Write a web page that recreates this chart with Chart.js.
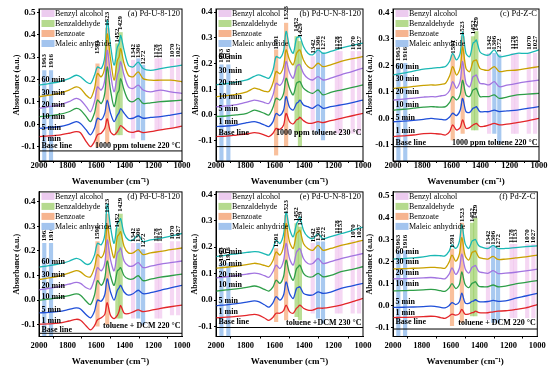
<!DOCTYPE html>
<html>
<head>
<meta charset="utf-8">
<script src="https://cdn.jsdelivr.net/npm/chart.js@4.4.0/dist/chart.umd.min.js"></script>
<style>
  html, body { margin: 0; padding: 0; background: #fff; }
  body { width: 549px; height: 371px; position: relative; overflow: hidden; }
  canvas { position: absolute; left: 0; }
</style>
</head>
<body>
<script>
// ===== Data =====
const wavenumbers = [2000, 1930, 1860, 1790, 1740, 1710, 1670, 1640, 1612, 1591, 1565, 1540, 1523, 1500, 1475, 1452, 1440, 1429, 1405, 1375, 1342, 1306, 1272, 1220, 1150, 1080, 1000];
const seriesNames = ["1 min", "5 min", "10 min", "20 min", "30 min", "60 min"];
const xTicks = [2000, 1800, 1600, 1400, 1200, 1000];

// (a) Pd-U-8-120, 1000 ppm toluene 220 °C
const a1  = [-0.055, -0.052, -0.048, -0.040, -0.033, -0.038, -0.077, -0.100, -0.077, -0.047, -0.040, -0.018, 0.024, -0.033, -0.047, -0.033, -0.018, -0.006, -0.018, -0.033, -0.036, -0.030, -0.037, -0.033, -0.025, -0.018, -0.008];
const a5  = [-0.018, -0.015, -0.011, 0.000, 0.012, 0.004, -0.025, -0.047, -0.018, 0.027, 0.020, 0.050, 0.108, 0.050, 0.012, 0.040, 0.052, 0.070, 0.050, 0.027, 0.027, 0.037, 0.027, 0.031, 0.034, 0.041, 0.050];
const a10 = [0.034, 0.038, 0.044, 0.056, 0.071, 0.064, 0.034, 0.012, 0.050, 0.108, 0.093, 0.138, 0.256, 0.153, 0.079, 0.138, 0.153, 0.204, 0.153, 0.108, 0.101, 0.116, 0.093, 0.096, 0.101, 0.104, 0.108];
const a20 = [0.071, 0.079, 0.086, 0.101, 0.116, 0.108, 0.079, 0.056, 0.101, 0.167, 0.153, 0.197, 0.330, 0.227, 0.145, 0.219, 0.242, 0.279, 0.219, 0.167, 0.160, 0.175, 0.153, 0.145, 0.153, 0.145, 0.138];
const a30 = [0.123, 0.130, 0.138, 0.153, 0.167, 0.160, 0.130, 0.116, 0.160, 0.227, 0.212, 0.256, 0.404, 0.293, 0.197, 0.286, 0.301, 0.338, 0.271, 0.219, 0.212, 0.234, 0.204, 0.197, 0.197, 0.197, 0.190];
const a60 = [0.175, 0.182, 0.190, 0.204, 0.219, 0.212, 0.190, 0.182, 0.219, 0.256, 0.249, 0.301, 0.464, 0.353, 0.264, 0.345, 0.360, 0.397, 0.330, 0.264, 0.256, 0.278, 0.249, 0.241, 0.249, 0.256, 0.264];

// (b) Pd-U-N-8-120, 1000 ppm toluene 230 °C
const b1  = [-0.084, -0.082, -0.078, -0.074, -0.069, -0.071, -0.078, -0.084, -0.071, -0.052, -0.056, -0.039, 0.006, -0.026, -0.035, -0.019, -0.016, -0.009, -0.022, -0.032, -0.032, -0.026, -0.030, -0.022, -0.013, -0.004, 0.006];
const b5  = [-0.045, -0.043, -0.039, -0.030, -0.026, -0.030, -0.039, -0.045, -0.026, 0.006, -0.002, 0.019, 0.071, 0.030, 0.019, 0.045, 0.050, 0.058, 0.039, 0.032, 0.026, 0.039, 0.026, 0.032, 0.039, 0.047, 0.058];
const b10 = [-0.006, -0.004, 0.000, 0.006, 0.019, 0.015, 0.006, 0.000, 0.030, 0.065, 0.058, 0.084, 0.143, 0.104, 0.078, 0.123, 0.128, 0.130, 0.104, 0.091, 0.084, 0.097, 0.078, 0.088, 0.097, 0.106, 0.117];
const b20 = [0.032, 0.035, 0.040, 0.050, 0.058, 0.055, 0.048, 0.045, 0.078, 0.123, 0.115, 0.140, 0.208, 0.165, 0.143, 0.188, 0.195, 0.195, 0.162, 0.143, 0.136, 0.149, 0.136, 0.143, 0.156, 0.168, 0.182];
const b30 = [0.071, 0.075, 0.080, 0.090, 0.104, 0.100, 0.092, 0.091, 0.125, 0.169, 0.160, 0.190, 0.253, 0.215, 0.195, 0.240, 0.250, 0.253, 0.214, 0.188, 0.182, 0.201, 0.188, 0.195, 0.208, 0.218, 0.227];
const b60 = [0.117, 0.122, 0.128, 0.136, 0.150, 0.156, 0.148, 0.143, 0.175, 0.227, 0.221, 0.250, 0.325, 0.266, 0.240, 0.299, 0.303, 0.305, 0.266, 0.240, 0.234, 0.253, 0.240, 0.247, 0.260, 0.270, 0.279];

// (c) Pd-Z-C, 1000 ppm toluene 220 °C
const c1  = [-0.069, -0.066, -0.063, -0.058, -0.057, -0.058, -0.060, -0.063, -0.050, -0.025, -0.044, -0.035, -0.006, -0.038, -0.035, -0.025, -0.022, -0.019, -0.031, -0.030, -0.025, -0.019, -0.025, -0.022, -0.016, -0.010, 0.000];
const c5  = [-0.013, -0.011, -0.008, -0.004, 0.000, -0.002, -0.004, -0.006, 0.005, 0.019, 0.010, 0.030, 0.075, 0.025, 0.022, 0.038, 0.040, 0.044, 0.025, 0.025, 0.025, 0.031, 0.025, 0.028, 0.031, 0.037, 0.044];
const c10 = [0.031, 0.034, 0.038, 0.042, 0.044, 0.043, 0.042, 0.044, 0.060, 0.082, 0.069, 0.090, 0.144, 0.088, 0.082, 0.107, 0.110, 0.113, 0.082, 0.082, 0.082, 0.088, 0.075, 0.080, 0.088, 0.091, 0.094];
const c20 = [0.069, 0.072, 0.076, 0.080, 0.082, 0.081, 0.085, 0.088, 0.105, 0.138, 0.113, 0.140, 0.214, 0.132, 0.119, 0.157, 0.160, 0.163, 0.132, 0.130, 0.126, 0.138, 0.119, 0.125, 0.132, 0.138, 0.144];
const c30 = [0.113, 0.116, 0.120, 0.124, 0.126, 0.125, 0.128, 0.132, 0.160, 0.195, 0.163, 0.190, 0.270, 0.188, 0.176, 0.214, 0.218, 0.220, 0.188, 0.182, 0.182, 0.195, 0.176, 0.180, 0.182, 0.188, 0.195];
const c60 = [0.163, 0.170, 0.178, 0.185, 0.188, 0.190, 0.192, 0.195, 0.215, 0.245, 0.220, 0.245, 0.327, 0.245, 0.232, 0.283, 0.288, 0.295, 0.251, 0.240, 0.239, 0.258, 0.232, 0.236, 0.245, 0.245, 0.258];

// (d) Pd-U-8-120, toluene + DCM 220 °C
const d1  = [-0.098, -0.097, -0.094, -0.085, -0.078, -0.082, -0.105, -0.121, -0.104, -0.080, -0.072, -0.058, -0.010, -0.062, -0.075, -0.062, -0.045, -0.022, -0.053, -0.055, -0.048, -0.040, -0.047, -0.042, -0.034, -0.027, -0.020];
const d5  = [-0.052, -0.050, -0.046, -0.038, -0.032, -0.036, -0.060, -0.072, -0.045, 0.000, -0.005, 0.022, 0.086, 0.033, 0.000, 0.040, 0.050, 0.060, 0.033, 0.020, 0.026, 0.040, 0.026, 0.030, 0.040, 0.050, 0.060];
const d10 = [0.000, 0.004, 0.010, 0.018, 0.025, 0.020, -0.005, -0.018, 0.020, 0.079, 0.060, 0.090, 0.159, 0.099, 0.060, 0.119, 0.125, 0.132, 0.099, 0.086, 0.086, 0.099, 0.079, 0.085, 0.093, 0.099, 0.106];
const d20 = [0.042, 0.048, 0.055, 0.065, 0.072, 0.068, 0.050, 0.045, 0.085, 0.132, 0.119, 0.150, 0.245, 0.165, 0.119, 0.192, 0.200, 0.212, 0.159, 0.139, 0.139, 0.152, 0.132, 0.138, 0.146, 0.152, 0.159];
const d30 = [0.083, 0.090, 0.098, 0.110, 0.120, 0.115, 0.097, 0.095, 0.132, 0.185, 0.172, 0.205, 0.304, 0.225, 0.172, 0.258, 0.268, 0.278, 0.218, 0.192, 0.192, 0.205, 0.185, 0.192, 0.198, 0.205, 0.212];
const d60 = [0.134, 0.140, 0.147, 0.158, 0.170, 0.164, 0.146, 0.150, 0.183, 0.231, 0.225, 0.265, 0.390, 0.298, 0.231, 0.311, 0.320, 0.331, 0.271, 0.245, 0.245, 0.265, 0.238, 0.245, 0.251, 0.260, 0.271];

// (e) Pd-U-N-8-120, toluene + DCM 230 °C
const e1  = [-0.067, -0.065, -0.062, -0.058, -0.054, -0.057, -0.068, -0.077, -0.065, -0.050, -0.050, -0.040, -0.019, -0.044, -0.050, -0.031, -0.025, -0.019, -0.031, -0.038, -0.038, -0.031, -0.031, -0.027, -0.019, -0.008, 0.006];
const e5  = [-0.021, -0.018, -0.014, -0.008, -0.003, -0.006, -0.018, -0.027, -0.010, 0.013, 0.000, 0.020, 0.069, 0.025, 0.006, 0.044, 0.048, 0.050, 0.025, 0.019, 0.019, 0.031, 0.025, 0.030, 0.044, 0.053, 0.063];
const e10 = [0.034, 0.038, 0.042, 0.048, 0.053, 0.050, 0.040, 0.034, 0.050, 0.075, 0.063, 0.090, 0.151, 0.101, 0.075, 0.119, 0.126, 0.132, 0.101, 0.088, 0.088, 0.101, 0.088, 0.093, 0.107, 0.115, 0.126];
const e20 = [0.084, 0.088, 0.092, 0.098, 0.102, 0.100, 0.092, 0.086, 0.108, 0.132, 0.119, 0.150, 0.214, 0.157, 0.132, 0.182, 0.190, 0.195, 0.157, 0.138, 0.138, 0.157, 0.138, 0.145, 0.157, 0.166, 0.176];
const e30 = [0.121, 0.124, 0.128, 0.134, 0.139, 0.137, 0.131, 0.127, 0.150, 0.182, 0.170, 0.205, 0.289, 0.220, 0.195, 0.251, 0.258, 0.264, 0.214, 0.195, 0.188, 0.207, 0.188, 0.195, 0.207, 0.215, 0.226];
const e60 = [0.164, 0.170, 0.175, 0.180, 0.183, 0.182, 0.175, 0.170, 0.195, 0.226, 0.214, 0.250, 0.333, 0.270, 0.239, 0.289, 0.300, 0.314, 0.264, 0.239, 0.232, 0.251, 0.232, 0.240, 0.251, 0.262, 0.276];

// (f) Pd-Z-C, toluene + DCM 220 °C
const f1  = [-0.056, -0.055, -0.054, -0.052, -0.050, -0.051, -0.056, -0.060, -0.050, -0.040, -0.045, -0.038, -0.019, -0.041, -0.040, -0.034, -0.032, -0.027, -0.033, -0.035, -0.034, -0.030, -0.027, -0.025, -0.019, -0.012, 0.003];
const f5  = [-0.010, -0.009, -0.008, -0.006, -0.004, -0.005, -0.010, -0.012, -0.002, 0.012, 0.003, 0.016, 0.055, 0.011, 0.008, 0.018, 0.020, 0.025, 0.016, 0.015, 0.017, 0.022, 0.018, 0.020, 0.032, 0.042, 0.054];
const f10 = [0.065, 0.066, 0.068, 0.070, 0.072, 0.071, 0.066, 0.063, 0.078, 0.098, 0.076, 0.094, 0.151, 0.094, 0.080, 0.100, 0.103, 0.107, 0.086, 0.084, 0.084, 0.092, 0.084, 0.087, 0.097, 0.104, 0.112];
const f20 = [0.120, 0.121, 0.122, 0.124, 0.126, 0.125, 0.122, 0.120, 0.140, 0.170, 0.140, 0.168, 0.233, 0.166, 0.146, 0.173, 0.177, 0.181, 0.153, 0.148, 0.145, 0.157, 0.144, 0.146, 0.150, 0.156, 0.164];
const f30 = [0.165, 0.166, 0.168, 0.170, 0.172, 0.172, 0.170, 0.168, 0.195, 0.228, 0.200, 0.232, 0.307, 0.225, 0.205, 0.240, 0.243, 0.247, 0.218, 0.212, 0.210, 0.222, 0.208, 0.210, 0.215, 0.220, 0.228];
const f60 = [0.210, 0.212, 0.215, 0.220, 0.225, 0.226, 0.225, 0.224, 0.245, 0.275, 0.258, 0.290, 0.366, 0.280, 0.258, 0.292, 0.296, 0.299, 0.270, 0.262, 0.258, 0.272, 0.258, 0.258, 0.262, 0.266, 0.270];

// marked bands
const peakWn   = [1963, 1916, 1591, 1523, 1452, 1429, 1342, 1306, 1272, 1178, 1153, 1070, 1027];
const peakKind = ["M", "M", "B", "B", "D", "D", "A", "M", "M", "A", "A", "A", "A"];
const legendKinds  = ["A", "D", "B", "M"];
const legendLabels = ["Benzyl alcohol", "Benzaldehyde", "Benzoate", "Maleic anhydride"];

const aBandLo = [-0.167, -0.167, -0.100, -0.085, -0.047, -0.047, -0.062, -0.033, -0.070, -0.025, -0.025, -0.018, -0.018];
const aBandHi = [0.240, 0.240, 0.270, 0.430, 0.360, 0.410, 0.286, 0.293, 0.264, 0.293, 0.293, 0.293, 0.293];
const bBandLo = [-0.179, -0.179, -0.156, -0.123, -0.071, -0.123, -0.058, -0.071, -0.097, -0.071, -0.071, -0.071, -0.071];
const bBandHi = [0.195, 0.195, 0.253, 0.357, 0.305, 0.286, 0.227, 0.253, 0.240, 0.247, 0.247, 0.247, 0.247];
const cBandLo = [-0.161, -0.161, -0.082, -0.057, -0.044, -0.044, -0.057, -0.057, -0.094, -0.057, -0.057, -0.057, -0.057];
const cBandHi = [0.207, 0.207, 0.239, 0.308, 0.308, 0.327, 0.245, 0.245, 0.239, 0.245, 0.245, 0.245, 0.245];
const dBandLo = [-0.148, -0.148, -0.106, -0.099, -0.073, -0.073, -0.073, -0.073, -0.099, -0.073, -0.073, -0.060, -0.060];
const dBandHi = [0.231, 0.231, 0.238, 0.350, 0.291, 0.350, 0.231, 0.231, 0.205, 0.231, 0.231, 0.238, 0.238];
const eBandLo = [-0.138, -0.138, -0.082, -0.075, -0.063, -0.075, -0.050, -0.069, -0.088, -0.050, -0.050, -0.050, -0.050];
const eBandHi = [0.138, 0.138, 0.195, 0.320, 0.289, 0.276, 0.214, 0.220, 0.220, 0.245, 0.245, 0.226, 0.226];
const fBandLo = [-0.142, -0.142, -0.093, -0.078, -0.049, -0.049, -0.064, -0.078, -0.078, -0.056, -0.056, -0.056, -0.056];
const fBandHi = [0.247, 0.247, 0.255, 0.373, 0.373, 0.396, 0.270, 0.270, 0.255, 0.277, 0.277, 0.277, 0.277];

// where the rotated peak numbers and the row labels sit (axis units)
const aPeakY = [0.283, 0.283, 0.345, 0.471, 0.397, 0.452, 0.327, 0.327, 0.298, 0.327, 0.327, 0.330, 0.330];
const bPeakY = [0.230, 0.230, 0.282, 0.396, 0.351, 0.329, 0.266, 0.280, 0.280, 0.280, 0.280, 0.280, 0.280];
const cPeakY = [0.242, 0.242, 0.270, 0.339, 0.343, 0.355, 0.285, 0.285, 0.274, 0.285, 0.285, 0.285, 0.285];
const dPeakY = [0.268, 0.268, 0.275, 0.384, 0.324, 0.388, 0.265, 0.265, 0.242, 0.265, 0.265, 0.275, 0.275];
const ePeakY = [0.173, 0.173, 0.226, 0.352, 0.324, 0.308, 0.245, 0.250, 0.250, 0.276, 0.276, 0.260, 0.260];
const fPeakY = [0.289, 0.289, 0.292, 0.410, 0.410, 0.425, 0.307, 0.307, 0.292, 0.314, 0.314, 0.314, 0.314];

const aTagY = [-0.067, -0.018, 0.031, 0.086, 0.141, 0.197];
const bTagY = [-0.026, 0.022, 0.071, 0.123, 0.173, 0.225];
const cTagY = [-0.048, 0.000, 0.050, 0.098, 0.147, 0.195];
const dTagY = [-0.084, -0.038, 0.011, 0.057, 0.104, 0.156];
const eTagY = [-0.046, -0.003, 0.056, 0.096, 0.136, 0.183];
const fTagY = [-0.033, 0.017, 0.096, 0.146, 0.197, 0.243];

// ===== Styles =====
const lineColors = ["#e3262a", "#1f4fd8", "#2e9e48", "#a274e0", "#c9a100", "#1ab8b4"];
const bandColors = { A: "rgba(236,176,232,0.5)", D: "rgba(140,200,80,0.6)", B: "rgba(245,150,90,0.6)", M: "rgba(110,165,230,0.6)" };
const legendColors = { A: "#eccbef", D: "#b5da8e", B: "#f6b48f", M: "#a3c4ee" };
const SERIF = '"Liberation Serif", "Times New Roman", serif';

Chart.defaults.font.family = SERIF;
Chart.defaults.color = "#000";

const panels = [
  { row: 0, left: 39, right: 182, yW: 26.8, yMin: -0.164, yMax: 0.515, title: "(a) Pd-U-8-120", cond: "1000 ppm toluene 220 °C",
    series: [a1, a5, a10, a20, a30, a60], base: -0.119, baseTag: -0.096, condY: -0.096, lo: aBandLo, hi: aBandHi, peakY: aPeakY, tagY: aTagY },
  { row: 0, left: 216, right: 363, yW: 24.8, yMin: -0.179, yMax: 0.412, title: "(b) Pd-U-N-8-120", cond: "1000 ppm toluene 230 °C",
    series: [b1, b5, b10, b20, b30, b60], base: -0.123, baseTag: -0.069, condY: -0.069, lo: bBandLo, hi: bBandHi, peakY: bPeakY, tagY: bTagY },
  { row: 0, left: 393, right: 539, yW: 27.8, yMin: -0.161, yMax: 0.412, title: "(c) Pd-Z-C", cond: "1000 ppm toluene 220 °C",
    series: [c1, c5, c10, c20, c30, c60], base: -0.107, baseTag: -0.092, condY: -0.092, lo: cBandLo, hi: cBandHi, peakY: cPeakY, tagY: cTagY },
  { row: 1, left: 39, right: 182, yW: 26.8, yMin: -0.148, yMax: 0.440, title: "(d) Pd-U-8-120", cond: "toluene + DCM 220 °C",
    series: [d1, d5, d10, d20, d30, d60], base: -0.135, baseTag: -0.121, condY: -0.107, lo: dBandLo, hi: dBandHi, peakY: dPeakY, tagY: dTagY },
  { row: 1, left: 216, right: 363, yW: 25.8, yMin: -0.138, yMax: 0.409, title: "(e) Pd-U-N-8-120", cond: "toluene +DCM 230 °C",
    series: [e1, e5, e10, e20, e30, e60], base: -0.104, baseTag: -0.083, condY: -0.085, lo: eBandLo, hi: eBandHi, peakY: ePeakY, tagY: eTagY },
  { row: 1, left: 393, right: 539, yW: 27.8, yMin: -0.142, yMax: 0.515, title: "(f) Pd-Z-C", cond: "toluene + DCM 220 °C",
    series: [f1, f5, f10, f20, f30, f60], base: -0.108, baseTag: -0.076, condY: -0.079, lo: fBandLo, hi: fBandHi, peakY: fPeakY, tagY: fTagY }
];

// row geometry: canvas top/height, chart top padding, bottom padding, x-axis box height, tick padding
const rows = [
  { top: 0,   height: 190, padTop: 9, padBottom: 2.6, xH: 26.4, tickPad: -1 },
  { top: 185, height: 186, padTop: 3, padBottom: 3.9, xH: 30.6, tickPad: 3.2 }
];

// ===== Annotations drawn on top =====
const annotate = {
  id: "annotate",
  afterDatasetsDraw(chart, args, opts) {
    const p = opts.panel;
    const { ctx, chartArea: ca } = chart;
    const x = chart.scales.x, y = chart.scales.y;
    ctx.save();
    ctx.fillStyle = "#000";

    // rotated peak numbers
    ctx.font = "bold 7px " + SERIF;
    ctx.textAlign = "center";
    ctx.textBaseline = "middle";
    peakWn.forEach((w, i) => {
      ctx.save();
      ctx.translate(x.getPixelForValue(w), y.getPixelForValue(p.peakY[i]));
      ctx.rotate(-Math.PI / 2);
      ctx.fillText(String(w), 0, 0);
      ctx.restore();
    });

    // legend boxes
    ctx.textAlign = "left";
    ctx.font = "8px " + SERIF;
    legendKinds.forEach((k, i) => {
      const cy = ca.top + 4.5 + i * 10;
      ctx.fillStyle = legendColors[k];
      ctx.fillRect(ca.left + 2.5, cy - 3.5, 13, 7);
      ctx.fillStyle = "#000";
      ctx.fillText(legendLabels[i], ca.left + 16, cy + 0.5);
    });

    // time labels
    ctx.font = "bold 8px " + SERIF;
    seriesNames.forEach((name, i) => {
      ctx.fillText(name, ca.left + 2.5, y.getPixelForValue(p.tagY[i]));
    });
    ctx.fillText("Base line", ca.left + 2.5, y.getPixelForValue(p.baseTag));

    // condition text
    ctx.textAlign = "right";
    ctx.fillText(p.cond, ca.right - 1.5, y.getPixelForValue(p.condY));

    // panel title
    ctx.font = "8.5px " + SERIF;
    ctx.fillText(p.title, ca.right - 2, ca.top + 4.5);

    // frame
    ctx.strokeStyle = "#000";
    ctx.lineWidth = 1;
    ctx.strokeRect(ca.left, ca.top, ca.right - ca.left, ca.bottom - ca.top);
    ctx.restore();
  }
};

// ===== Build panels =====
panels.forEach(p => {
  const r = rows[p.row];
  const canvas = document.createElement("canvas");
  canvas.width = 549;
  canvas.height = r.height;
  canvas.style.top = r.top + "px";
  canvas.style.width = "549px";
  canvas.style.height = r.height + "px";
  document.body.appendChild(canvas);

  const datasets = [];
  datasets.push({
    type: "bar",
    data: peakWn.map((w, i) => ({ x: w, y: [p.lo[i], p.hi[i]] })),
    backgroundColor: peakKind.map(k => bandColors[k]),
    borderWidth: 0,
    barThickness: 3.5,
    grouped: false,
    order: 10
  });
  p.series.forEach((vals, i) => {
    datasets.push({
      type: "line",
      label: seriesNames[i],
      data: wavenumbers.map((w, j) => ({ x: w, y: vals[j] })),
      borderColor: lineColors[i],
      borderWidth: 1.3,
      pointRadius: 0,
      tension: 0.3,
      fill: false,
      order: 1
    });
  });
  datasets.push({
    type: "line",
    label: "Base line",
    data: [{ x: 2000, y: p.base }, { x: 1000, y: p.base }],
    borderColor: "#000",
    borderWidth: 1,
    pointRadius: 0,
    order: 0
  });

  const tickGrid = { display: true, drawOnChartArea: false, drawTicks: true, tickLength: 2, color: "#000" };

  new Chart(canvas.getContext("2d"), {
    type: "line",
    data: { datasets },
    options: {
      responsive: false,
      animation: false,
      devicePixelRatio: 1,
      layout: { padding: { left: p.left - p.yW, right: 549 - p.right, top: r.padTop, bottom: r.padBottom } },
      plugins: {
        legend: { display: false },
        tooltip: { enabled: false },
        annotate: { panel: p }
      },
      scales: {
        x: {
          type: "linear",
          min: 1000,
          max: 2000,
          reverse: true,
          offset: false,
          afterFit: s => { s.height = r.xH; },
          afterBuildTicks: s => { s.ticks = xTicks.map(v => ({ value: v })); },
          ticks: { padding: r.tickPad, maxRotation: 0, autoSkip: false, color: "#000",
                   font: { size: 8.5, weight: "bold", lineHeight: 1 },
                   callback: v => String(v) },
          grid: tickGrid,
          border: { display: true, color: "#000", width: 1 },
          title: { display: true, text: "Wavenumber (cm⁻¹)", color: "#000", padding: 0,
                   font: { size: 9, weight: "bold", lineHeight: 1.2 } }
        },
        y: {
          type: "linear",
          min: p.yMin,
          max: p.yMax,
          afterFit: s => { s.width = p.yW; },
          ticks: { stepSize: 0.1, includeBounds: false, padding: 1.5, color: "#000",
                   font: { size: 9, weight: "bold" },
                   callback: v => Math.abs(v) < 1e-9 ? "0.0" : v.toFixed(1) },
          grid: tickGrid,
          border: { display: true, color: "#000", width: 1 },
          title: { display: true, text: "Absorbance (a.u.)", color: "#000", padding: 0,
                   font: { size: 8, weight: "bold", lineHeight: 1.2 } }
        }
      }
    },
    plugins: [annotate]
  });
});
</script>
</body>
</html>
